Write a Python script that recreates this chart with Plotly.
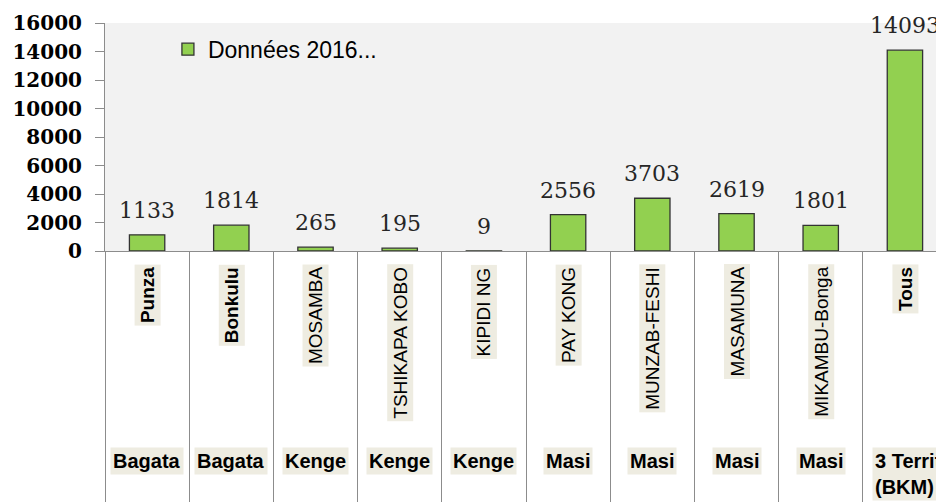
import plotly.graph_objects as go

sites = ["Punza", "Bonkulu", "MOSAMBA", "TSHIKAPA KOBO", "KIPIDI NG", "PAY KONG",
         "MUNZAB-FESHI", "MASAMUNA", "MIKAMBU-Bonga", "Tous"]
territoires = ["Bagata", "Bagata", "Kenge", "Kenge", "Kenge", "Masi", "Masi", "Masi", "Masi",
               "3 Territoires<br>(BKM)"]
valeurs = [1133, 1814, 265, 195, 9, 2556, 3703, 2619, 1801, 14093]
serie_nom = "Données 2016..."
y_ticks = [0, 2000, 4000, 6000, 8000, 10000, 12000, 14000, 16000]
bold_sites = {"Punza", "Bonkulu", "Tous"}

GRAY = "#8c8c8c"
LABEL_BG = "#eeece1"

fig = go.Figure()
fig.add_trace(go.Bar(
    x=sites, y=valeurs, name=serie_nom, width=0.42,
    marker=dict(color="#92d050", line=dict(color="#333333", width=1.3)),
    showlegend=True,
))

annotations = []
for s, v in zip(sites, valeurs):
    annotations.append(dict(
        x=s, y=v, xref="x", yref="y", text=str(v), showarrow=False,
        yanchor="bottom", yshift=10,
        font=dict(family="DejaVu Serif", size=22, color="#262626"),
    ))
for s in sites:
    txt = f"<b>{s}</b>" if s in bold_sites else s
    annotations.append(dict(
        x=s, y=0, xref="x", yref="paper", text=txt, showarrow=False,
        textangle=-90, yanchor="top", yshift=-13,
        bgcolor=LABEL_BG, borderpad=2,
        font=dict(family="Liberation Sans", size=19, color="#000000"),
    ))
for s, t in zip(sites, territoires):
    common = dict(
        x=s, y=0, xref="x", yref="paper", text=f"<b>{t}</b>", showarrow=False,
        yanchor="top", yshift=-196, bgcolor=LABEL_BG, borderpad=2,
        font=dict(family="Liberation Sans", size=20, color="#000000"),
    )
    if "<br>" in t:
        common.update(xanchor="left", xshift=-33, align="left")
    annotations.append(common)

# page body has an 8px default margin: figure is sized to fill the rest of the window
fig.update_layout(
    width=936, height=494,
    margin=dict(l=97, r=0, t=15, b=251),
    paper_bgcolor="white", plot_bgcolor="#f2f2f2",
    annotations=annotations,
    legend=dict(
        x=0.075, y=0.885, xanchor="left", yanchor="middle",
        bgcolor="rgba(0,0,0,0)",
        font=dict(family="Liberation Sans", size=23, color="#000000"),
    ),
    xaxis=dict(
        type="category", range=[-0.5, 9.464], automargin=False,
        showticklabels=False, showgrid=False, zeroline=False,
        showline=True, linecolor=GRAY, linewidth=1,
        ticks="outside", tickson="boundaries", ticklen=260,
        tickcolor=GRAY, tickwidth=1,
    ),
    yaxis=dict(
        range=[0, 16000], tickvals=y_ticks, ticktext=[str(t) for t in y_ticks],
        automargin=False,
        showgrid=False, zeroline=False,
        showline=True, linecolor=GRAY, linewidth=1,
        ticks="outside", ticklen=9, tickcolor=GRAY, tickwidth=1,
        ticklabelstandoff=9,
        tickfont=dict(family="DejaVu Serif", size=20, color="#000000", weight="bold"),
    ),
)

fig.write_html("out.html")
